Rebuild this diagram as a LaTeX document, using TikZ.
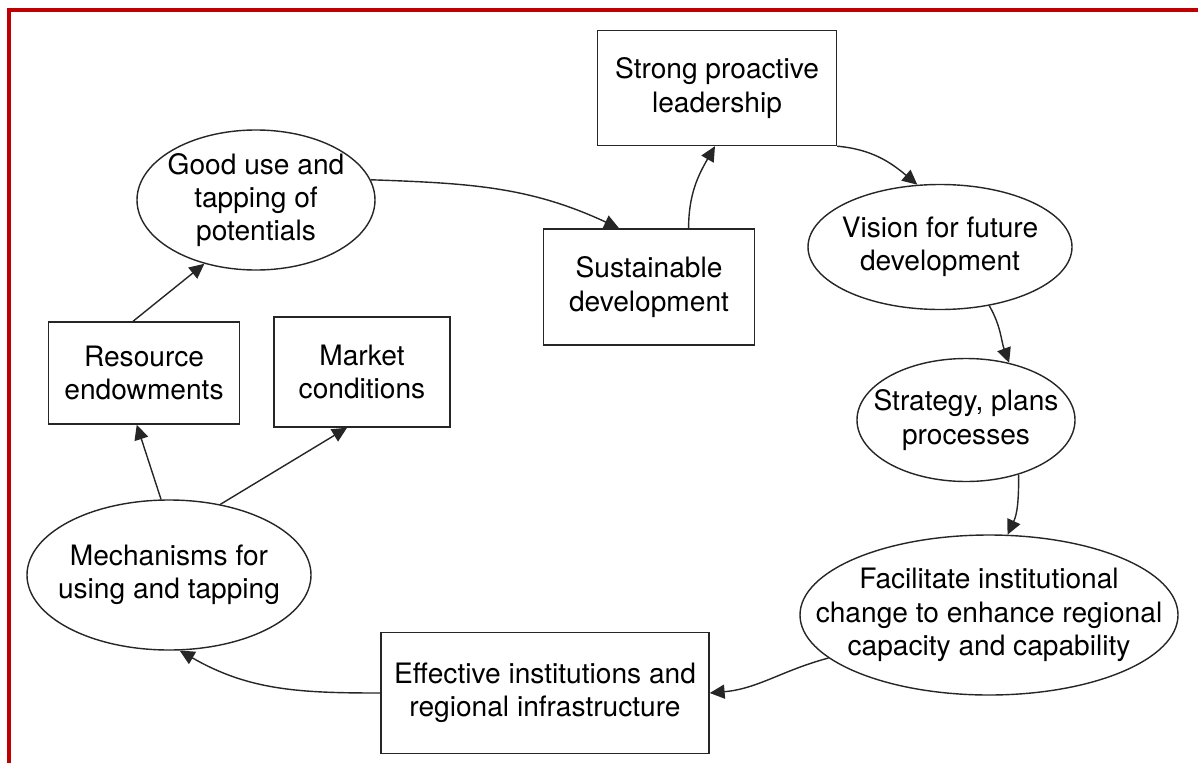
\documentclass[tikz,border=0pt]{standalone}
\usepackage{fontspec}
\setmainfont{TeX Gyre Heros}
\usetikzlibrary{shapes.geometric}
\usetikzlibrary{arrows.meta}
\definecolor{framered}{HTML}{C00000}
\tikzset{mybox/.style={draw=black!85, line width=0.8pt, align=center, inner sep=0pt, font=\fontsize{16}{19}\selectfont}}
\tikzset{myoval/.style={ellipse, draw=black!85, line width=0.8pt, align=center, inner xsep=-1cm, inner ysep=0pt, font=\fontsize{16}{19}\selectfont}}
\tikzset{myarrow/.style={-{Triangle[length=8.5pt,width=8pt]}, line width=0.8pt, draw=black!85}}

\begin{document}
\begin{tikzpicture}

\useasboundingbox (0, 0) rectangle (23.96, -15.24);
\draw[framered, line width=2.3pt] (0.18, -15.3) -- (0.18, -0.2) -- (24.0, -0.2);

\node[mybox, minimum width=4.78cm, minimum height=2.3cm] (lead) at (14.34, -1.76) {Strong proactive\\leadership};
\node[myoval, minimum width=4.76cm, minimum height=2.8cm] (good) at (5.12, -4.0) {Good use and\\tapping of\\potentials};
\node[mybox, minimum width=4.22cm, minimum height=2.32cm] (sust) at (12.98, -5.74) {Sustainable\\development};
\node[myoval, minimum width=5.28cm, minimum height=2.5cm] (vision) at (18.8, -4.94) {Vision for future\\development};
\node[mybox, minimum width=3.82cm, minimum height=2.04cm] (resource) at (2.88, -7.46) {Resource\\endowments};
\node[mybox, minimum width=3.52cm, minimum height=2.2cm] (market) at (7.24, -7.44) {Market\\conditions};
\node[myoval, minimum width=4.36cm, minimum height=2.46cm] (strategy) at (19.32, -8.4) {Strategy, plans\\processes};
\node[myoval, minimum width=5.68cm, minimum height=3.0cm] (mech) at (3.38, -11.5) {Mechanisms for\\using and tapping};
\node[myoval, minimum width=7.56cm, minimum height=3.2cm] (facil) at (19.78, -12.3) {Facilitate institutional\\change to enhance regional\\capacity and capability};
\node[mybox, minimum width=6.56cm, minimum height=2.42cm] (effect) at (10.9, -13.86) {Effective institutions and\\regional infrastructure};

\draw[myarrow] (good.10) to[out=-2, in=155] (sust.117);
\draw[myarrow] (sust.56) to[out=90, in=-120] (lead.268);
\draw[myarrow] (lead.south east) to[out=-5, in=140] (vision.110);
\draw[myarrow] (vision.-50) to[out=-60, in=110] (strategy.53);
\draw[myarrow] (strategy.-46) to[out=-90, in=65] (facil.77);
\draw[myarrow] (facil.195) to[out=195, in=5] (effect.east);
\draw[myarrow] (effect.west) to[out=180, in=-30] (mech.-82);
\draw[myarrow] (mech.96) -- (resource.262);
\draw[myarrow] (mech.54) -- (market.255);
\draw[myarrow] (resource.102) -- (good.231);

\end{tikzpicture}
\end{document}
